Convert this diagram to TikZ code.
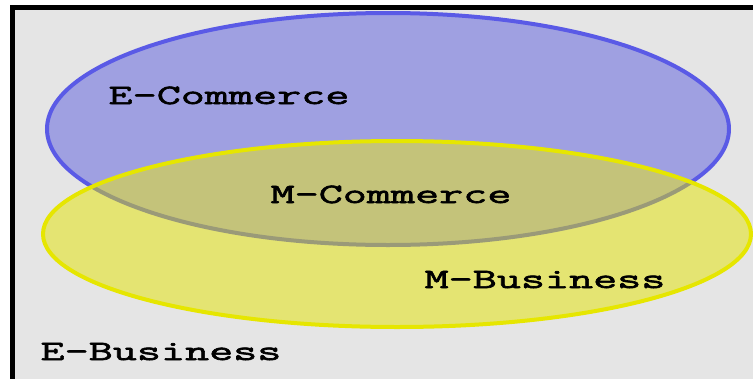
\documentclass[tikz,border=0pt]{standalone}
\usepackage{fontspec}
\newfontfamily\setfont[FakeStretch=1.67, FakeBold=2.4]{Latin Modern Mono}
\definecolor{panelgrey}{HTML}{E5E5E5}
\definecolor{bluefill}{HTML}{9FA0E1}
\definecolor{blueline}{HTML}{5A5AE6}
\definecolor{yellowfill}{HTML}{E4E472}
\definecolor{yellowline}{HTML}{E6E600}
\definecolor{overlapfill}{HTML}{C4C37A}
\definecolor{overlapline}{HTML}{9A9A78}
\tikzstyle{panel} = [line width=5, draw=black, fill=panelgrey]
\tikzstyle{bluearea} = [line width=4, draw=blueline, fill=bluefill]
\tikzstyle{yellowarea} = [fill=yellowfill]
\tikzstyle{yellowedge} = [line width=4, draw=yellowline]
\tikzstyle{overlaparea} = [line width=4, draw=overlapline, fill=overlapfill]
\tikzstyle{setname} = [anchor=base, inner sep=0, font=\setfont\fontsize{28}{28}\selectfont]

\begin{document}
\begin{tikzpicture}[x=1pt, y=-1pt]
 \useasboundingbox (0,0) rectangle (753,378);
 \clip (0,0) rectangle (753,378);
 \draw [panel] (12.5,7) rectangle (780,400);

 \coordinate (ecenter) at (388,129);
 \coordinate (mcenter) at (397,234);

 \draw [bluearea] (ecenter) ellipse [x radius=341, y radius=116];
 \fill [yellowarea] (mcenter) ellipse [x radius=354, y radius=93];
 \begin{scope}
  \clip (mcenter) ellipse [x radius=354, y radius=93];
  \draw [overlaparea] (ecenter) ellipse [x radius=341, y radius=116];
 \end{scope}
 \draw [yellowedge] (mcenter) ellipse [x radius=354, y radius=93];

 \node (ecommerce) [setname] at (229,104) {E-Commerce};
 \node (mcommerce) [setname] at (391,203) {M-Commerce};
 \node (mbusiness) [setname] at (545,288) {M-Business};
 \node (ebusiness) [setname] at (161,360) {E-Business};
\end{tikzpicture}
\end{document}
